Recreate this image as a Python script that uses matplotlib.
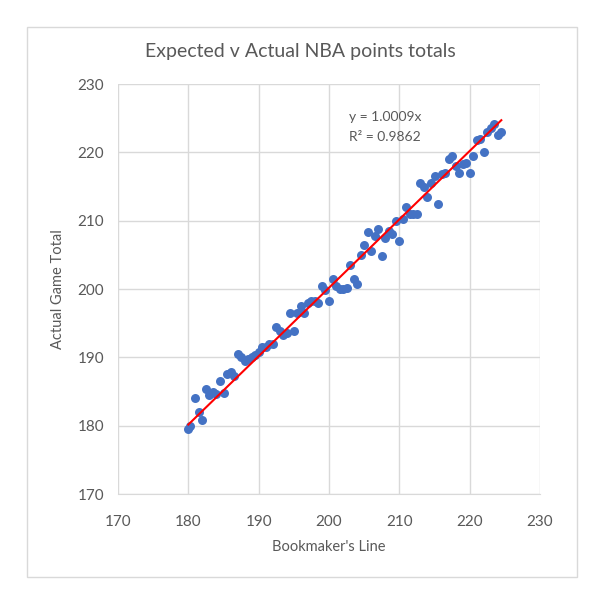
import matplotlib
matplotlib.use("Agg")
import matplotlib.pyplot as plt
from matplotlib.patches import Rectangle
import numpy as np

bookmaker_line = [180.0, 180.3, 181.0, 181.5, 182.0, 182.5, 183.0, 183.5, 184.0, 184.5,
                  185.0, 185.5, 186.0, 186.5, 187.0, 187.5, 188.0, 188.5, 189.0, 189.5,
                  190.0, 190.5, 191.0, 191.5, 192.0, 192.5, 193.0, 193.5, 194.0, 194.5,
                  195.0, 195.5, 196.0, 196.5, 197.0, 197.5, 198.0, 198.5, 199.0, 199.5,
                  200.0, 200.5, 201.0, 201.5, 202.0, 202.5, 203.0, 203.5, 204.0, 204.5,
                  205.0, 205.5, 206.0, 206.5, 207.0, 207.5, 208.0, 208.5, 209.0, 209.5,
                  210.0, 210.5, 211.0, 211.5, 212.0, 212.5, 213.0, 213.5, 214.0, 214.5,
                  215.0, 215.5, 216.0, 216.5, 217.0, 217.5, 218.0, 218.5, 219.0, 219.5,
                  220.0, 220.5, 221.0, 221.5, 222.0, 222.5, 223.0, 223.5, 224.0, 224.5]
actual_total = [179.5, 180.0, 184.0, 182.0, 180.8, 185.3, 184.5, 185.0, 184.7, 186.5,
                184.8, 187.5, 187.8, 187.3, 190.5, 190.0, 189.5, 189.8, 190.0, 190.3,
                190.8, 191.5, 191.5, 192.0, 192.0, 194.5, 193.8, 193.2, 193.5, 196.5,
                193.8, 196.5, 197.5, 196.5, 198.0, 198.3, 198.3, 198.0, 200.5, 199.8,
                198.3, 201.5, 200.5, 200.0, 200.0, 200.2, 203.5, 201.5, 200.8, 205.0,
                206.5, 208.3, 205.5, 207.8, 208.8, 204.8, 207.5, 208.5, 208.0, 210.0,
                207.0, 210.3, 212.0, 211.0, 211.0, 211.0, 215.5, 215.0, 213.5, 215.5,
                216.5, 212.5, 216.8, 217.0, 219.0, 219.5, 218.0, 217.0, 218.3, 218.5,
                217.0, 219.5, 221.8, 222.0, 220.0, 223.0, 223.5, 224.2, 222.5, 223.0]

slope = 1.0009
r_squared = 0.9862
x_ticks = [170, 180, 190, 200, 210, 220, 230]
y_ticks = [170, 180, 190, 200, 210, 220, 230]

plt.rcParams['font.family'] = ['Lato', 'DejaVu Sans']

fig = plt.figure(figsize=(6, 6), dpi=100)
fig.patches.append(Rectangle((27/600, 23/600), 550/600, 550/600, transform=fig.transFigure,
                             fill=False, edgecolor='#D9D9D9', linewidth=1.0))
ax = fig.add_axes([118/600, 1 - 494/600, 422/600, 410/600])

ax.scatter(bookmaker_line, actual_total, s=42, color='#4472C4', zorder=3, linewidths=0)
xs = np.array([min(bookmaker_line), max(bookmaker_line)])
ax.plot(xs, slope * xs, color='#FF0000', linewidth=1.5, zorder=4)

ax.set_xlim(170, 230)
ax.set_ylim(170, 230)
ax.set_xticks(x_ticks)
ax.set_yticks(y_ticks)
ax.grid(True, color='#D9D9D9', linewidth=1.0)
ax.set_axisbelow(True)
for s in ['top', 'right', 'left']:
    ax.spines[s].set_visible(False)
ax.spines['bottom'].set_color('#D9D9D9')
ax.tick_params(axis='x', length=0, labelsize=11, colors='#595959', pad=15)
ax.tick_params(axis='y', length=0, labelsize=11, colors='#595959', pad=10)

ax.set_xlabel("Bookmaker's Line", fontsize=10.5, color='#595959', labelpad=8)
ax.set_ylabel("Actual Game Total", fontsize=10.5, color='#595959', labelpad=9)
fig.text(0.5, 1 - 52/600, "Expected v Actual NBA points totals", ha='center', va='center',
         fontsize=14, color='#595959')
ax.text(202.9, 225.2, f"y = {slope:.4f}x", fontsize=10, color='#595959', va='center')
ax.text(202.9, 222.3, f"R² = {r_squared:.4f}", fontsize=10, color='#595959', va='center')

fig.savefig("out.png", dpi=100)
